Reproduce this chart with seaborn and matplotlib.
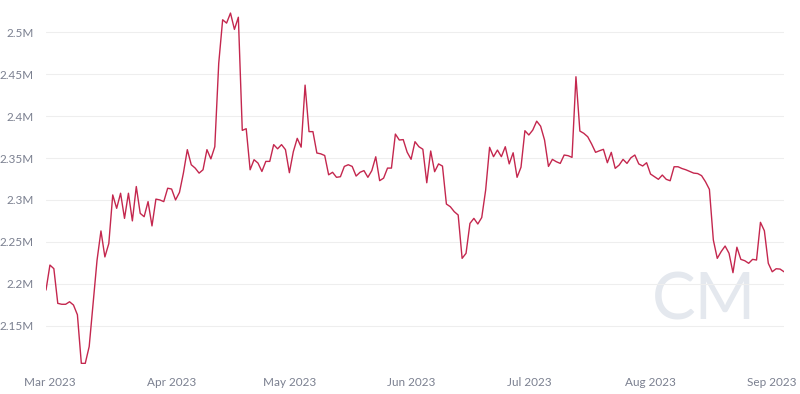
import matplotlib
matplotlib.use("Agg")
import matplotlib.pyplot as plt
import matplotlib.dates as mdates
import matplotlib.ticker as mticker
import numpy as np
import pandas as pd
import seaborn as sns

start_date = "2023-02-28"
# daily values, in millions
values = [
    2.1925,
    2.2223, 2.218, 2.1766, 2.1755, 2.1755, 2.1785, 2.1746, 2.163, 2.105, 2.105,
    2.125, 2.177, 2.228, 2.263, 2.232, 2.248, 2.306, 2.290, 2.308, 2.278,
    2.308, 2.275, 2.316, 2.284, 2.280, 2.298, 2.269, 2.301, 2.300, 2.298,
    2.314, 2.313, 2.300, 2.309, 2.332, 2.360, 2.342, 2.338, 2.332, 2.336,
    2.360, 2.349, 2.3635, 2.463, 2.515, 2.511, 2.523, 2.5035, 2.518, 2.383,
    2.385, 2.336, 2.348, 2.344, 2.334, 2.346, 2.346, 2.366, 2.361, 2.366,
    2.360, 2.3325, 2.3575, 2.3735, 2.363, 2.437, 2.3815, 2.3815, 2.356, 2.355,
    2.353, 2.330, 2.333, 2.327, 2.3277, 2.340, 2.342, 2.340, 2.3285, 2.333,
    2.335, 2.327, 2.335, 2.3515, 2.323, 2.326, 2.338, 2.338, 2.3786, 2.3715,
    2.372, 2.357, 2.3485, 2.3695, 2.3635, 2.3605, 2.3205, 2.3584, 2.3337, 2.343,
    2.3404, 2.2951, 2.2919, 2.286, 2.282, 2.2303, 2.2363, 2.272, 2.278, 2.2713,
    2.279, 2.3118, 2.3628, 2.3516, 2.3595, 2.3516, 2.3635, 2.343, 2.3563, 2.327,
    2.339, 2.3826, 2.3775, 2.3834, 2.394, 2.388, 2.3715, 2.340, 2.3484, 2.3456,
    2.3436, 2.3536, 2.3528, 2.3508, 2.447, 2.3822, 2.3795, 2.3754, 2.3667, 2.3568,
    2.3587, 2.3604, 2.3444, 2.3568, 2.3377, 2.3416, 2.3484, 2.3436, 2.3503, 2.3536,
    2.343, 2.3405, 2.3444, 2.3309, 2.3277, 2.3246, 2.3297, 2.3246, 2.3229, 2.3396,
    2.3396, 2.3375, 2.336, 2.334, 2.332, 2.3315, 2.329, 2.3217, 2.3126, 2.2522,
    2.2303, 2.2384, 2.245, 2.2363, 2.2132, 2.2436, 2.2291, 2.2275, 2.2244, 2.2291,
    2.2283, 2.2733, 2.2632, 2.2244, 2.2143, 2.2179, 2.2175, 2.2143,
]
y_ticks = [2.15, 2.2, 2.25, 2.3, 2.35, 2.4, 2.45, 2.5]
x_tick_dates = ["2023-03-01", "2023-04-01", "2023-05-01", "2023-06-01",
                "2023-07-01", "2023-08-01", "2023-09-01"]
x_tick_labels = ["Mar 2023", "Apr 2023", "May 2023", "Jun 2023",
                 "Jul 2023", "Aug 2023", "Sep 2023"]

dates = pd.date_range(start_date, periods=len(values), freq="D")
df = pd.DataFrame({"date": dates, "value": values})

sns.set_theme(style="white")
plt.rcParams["font.family"] = ["Lato", "DejaVu Sans"]

fig = plt.figure(figsize=(8, 3.94), dpi=100)
ax = fig.add_axes([46 / 800, 1 - 364.2 / 394, (784 - 46) / 800, (364.2 - 9.7) / 394])

# watermark
ax.text(0.892, 0.178, "CM", transform=ax.transAxes, fontsize=47,
        color="#e4e8ee", ha="center", va="center", fontweight="normal",
        zorder=0)

sns.lineplot(data=df, x="date", y="value", ax=ax, color="#c4274e",
             linewidth=1.0, zorder=3)

ax.set_xlim(dates[0], dates[-1])
ax.set_ylim(2.104, 2.527)
ax.set_yticks(y_ticks)
ax.yaxis.set_major_formatter(mticker.FuncFormatter(lambda v, p: f"{v:g}M"))
ax.set_xticks(pd.to_datetime(x_tick_dates))
ax.set_xticklabels(x_tick_labels)

ax.grid(axis="y", color="#eeeeee", linewidth=0.8, zorder=1)
ax.grid(axis="x", visible=False)
for s in ax.spines.values():
    s.set_visible(False)
ax.tick_params(axis="both", length=0, labelsize=8.5, colors="#7b8090")
ax.tick_params(axis="y", pad=9)
ax.tick_params(axis="x", pad=9)
ax.set_xlabel("")
ax.set_ylabel("")

fig.savefig("out.png", dpi=100)
